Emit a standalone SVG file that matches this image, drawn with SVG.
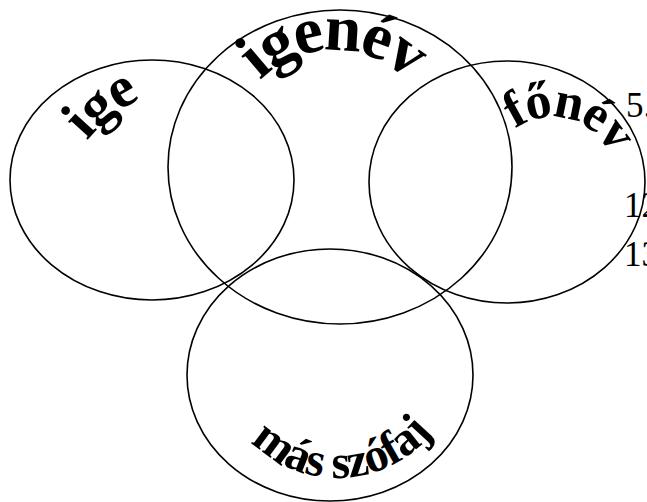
<svg xmlns="http://www.w3.org/2000/svg" xmlns:xlink="http://www.w3.org/1999/xlink" width="647" height="502" viewBox="0 0 647 502">
<style>
.set{fill:none;stroke:#000;stroke-width:1.6}
.arc{font-family:"Liberation Serif","Times New Roman",serif;font-weight:bold;fill:#000}
.num{font-family:"Liberation Serif","Times New Roman",serif;font-size:35px;fill:#000}
</style>
<defs>
<path id="p-ige" d="M 52.5,237 A 152,152 0 0 1 356.5,237"/>
<path id="p-igenev" d="M 229,155 A 105,105 0 0 1 439,155"/>
<path id="p-fonev" d="M 488.4,181 A 64,64 0 0 1 616.4,181"/>
<path id="p-mas" d="M 217,357 A 121,121 0 0 0 459,357"/>
</defs>
<rect width="647" height="502" fill="#fff"/>
<g id="ige">
<ellipse class="set" cx="152" cy="180" rx="142" ry="120"/>
<text class="arc" font-size="58" letter-spacing="-1" text-anchor="middle"><textPath xlink:href="#p-ige" href="#p-ige" startOffset="138">ige</textPath></text>
</g>
<g id="igenev">
<ellipse class="set" cx="340" cy="167" rx="172" ry="157"/>
<text class="arc" font-size="66" letter-spacing="-3" text-anchor="middle"><textPath xlink:href="#p-igenev" href="#p-igenev" startOffset="163.6">igenév</textPath></text>
</g>
<g id="fonev">
<ellipse class="set" cx="507" cy="182" rx="138" ry="121"/>
<text class="arc" font-size="52" letter-spacing="-2" text-anchor="middle"><textPath xlink:href="#p-fonev" href="#p-fonev" startOffset="116.2">főnév</textPath></text>
</g>
<g id="mas">
<ellipse class="set" cx="330" cy="375" rx="143" ry="126"/>
<text class="arc" font-size="48" letter-spacing="-1" text-anchor="middle"><textPath xlink:href="#p-mas" href="#p-mas" startOffset="195.4">más szófaj</textPath></text>
</g>
<g id="numbers">
<text class="num" x="626" y="117">5.</text>
<text class="num" x="624" y="217">12</text>
<text class="num" x="624" y="266">13</text>
</g>
<g id="connectors"/>
</svg>
